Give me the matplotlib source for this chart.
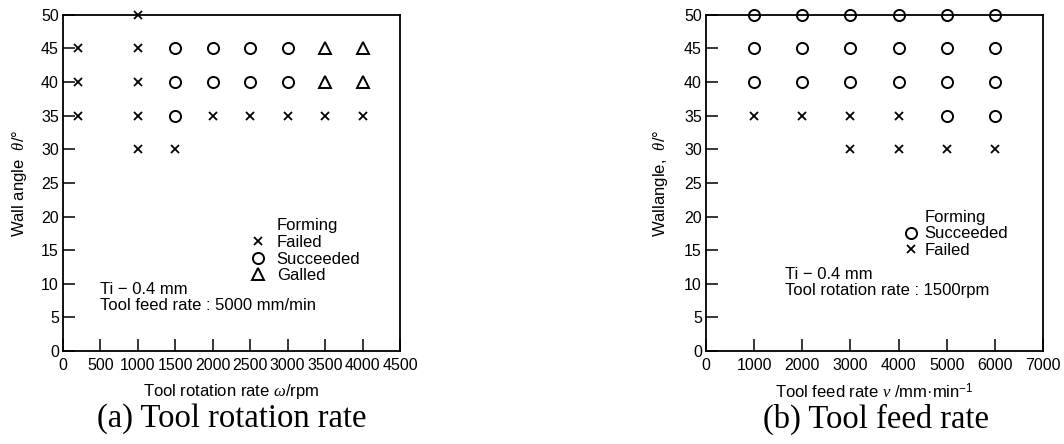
import numpy as np
import matplotlib.pyplot as plt
from matplotlib.lines import Line2D

plt.rcParams['font.family'] = ['Liberation Sans', 'DejaVu Sans']
plt.rcParams['mathtext.fontset'] = 'custom'
plt.rcParams['mathtext.it'] = 'Liberation Serif:italic'
plt.rcParams['mathtext.rm'] = 'Liberation Sans'

# (a) tool rotation rate, rpm vs wall angle
a_fail_x = [200, 200, 200, 1000, 1000, 1000, 1000, 1000, 1500, 2000, 2500, 3000, 3500, 4000]
a_fail_y = [45, 40, 35, 50, 45, 40, 35, 30, 30, 35, 35, 35, 35, 35]
a_succ_x = [1500, 1500, 1500, 2000, 2000, 2500, 2500, 3000, 3000]
a_succ_y = [45, 40, 35, 45, 40, 45, 40, 45, 40]
a_gall_x = [3500, 3500, 4000, 4000]
a_gall_y = [45, 40, 45, 40]

# (b) tool feed rate, mm/min vs wall angle
b_succ_x = [1000, 2000, 3000, 4000, 5000, 6000,
            1000, 2000, 3000, 4000, 5000, 6000,
            1000, 2000, 3000, 4000, 5000, 6000,
            5000, 6000]
b_succ_y = [50]*6 + [45]*6 + [40]*6 + [35, 35]
b_fail_x = [1000, 2000, 3000, 4000, 3000, 4000, 5000, 6000]
b_fail_y = [35, 35, 35, 35, 30, 30, 30, 30]

fs = 12
tfs = 11.5
xkw = dict(marker='x', ms=5.5, mew=1.3, color='k', ls='none', clip_on=False)
okw = dict(marker='o', ms=8, mew=1.4, mfc='none', mec='k', ls='none', clip_on=False)
tkw = dict(marker='^', ms=8.5, mew=1.4, mfc='none', mec='k', ls='none', clip_on=False)

fig = plt.figure(figsize=(10.64, 4.44), dpi=100)
ax1 = fig.add_axes([0.0592, 0.2095, 0.3167, 0.757])
ax2 = fig.add_axes([0.6635, 0.2095, 0.3167, 0.757])

for ax in (ax1, ax2):
    for s in ax.spines.values():
        s.set_linewidth(1.3)
    ax.tick_params(direction='in', length=8.5, width=1.1, labelsize=tfs,
                   top=False, right=False)
    ax.tick_params(axis='x', pad=5)
    ax.tick_params(axis='y', pad=3)
    ax.set_ylim(0, 50)
    ax.set_yticks(np.arange(0, 51, 5))

blank = Line2D([], [], ls='none', marker='none')

ax1.plot(a_fail_x, a_fail_y, **xkw)
ax1.plot(a_succ_x, a_succ_y, **okw)
ax1.plot(a_gall_x, a_gall_y, **tkw)
ax1.set_xlim(0, 4500)
ax1.set_xticks(np.arange(0, 4501, 500))
ax1.set_xlabel(r'Tool rotation rate $\mathit{\omega}$/rpm', fontsize=fs, labelpad=6.5)
ax1.set_ylabel(r'Wall angle  $\mathit{\theta}$/°', fontsize=fs, labelpad=8.5)
h1 = [blank,
      Line2D([], [], **xkw), Line2D([], [], **okw), Line2D([], [], **tkw)]
ax1.legend(h1, ['Forming', 'Failed', 'Succeeded', 'Galled'], loc='upper left',
           bbox_to_anchor=(0.555, 0.395), frameon=False, fontsize=fs,
           handlelength=1.0, handletextpad=0.6, labelspacing=0.1,
           borderpad=0, borderaxespad=0)
ax1.text(494, 8.0, 'Ti − 0.4 mm\nTool feed rate : 5000 mm/min', fontsize=fs,
         va='center', linespacing=1.1)

ax2.plot(b_succ_x, b_succ_y, **okw)
ax2.plot(b_fail_x, b_fail_y, **xkw)
ax2.set_xlim(0, 7000)
ax2.set_xticks(np.arange(0, 7001, 1000))
ax2.set_xlabel(r'Tool feed rate $\mathit{v}$ /mm·min$^{-1}$', fontsize=fs, labelpad=6.5)
ax2.set_ylabel(r'Wallangle,  $\mathit{\theta}$/°', fontsize=fs, labelpad=10)
h2 = [blank, Line2D([], [], **okw), Line2D([], [], **xkw)]
ax2.legend(h2, ['Forming', 'Succeeded', 'Failed'], loc='upper left',
           bbox_to_anchor=(0.585, 0.42), frameon=False, fontsize=fs,
           handlelength=1.0, handletextpad=0.3, labelspacing=0.1,
           borderpad=0, borderaxespad=0)
ax2.text(1641, 10.2, 'Ti − 0.4 mm\nTool rotation rate : 1500rpm', fontsize=fs,
         va='center', linespacing=1.1)

fig.text(0.218, 0.057, '(a) Tool rotation rate', fontsize=23.5,
         family='Liberation Serif', ha='center', va='center')
fig.text(0.823, 0.055, '(b) Tool feed rate', fontsize=23.5,
         family='Liberation Serif', ha='center', va='center')

fig.savefig('out.png', dpi=100)
